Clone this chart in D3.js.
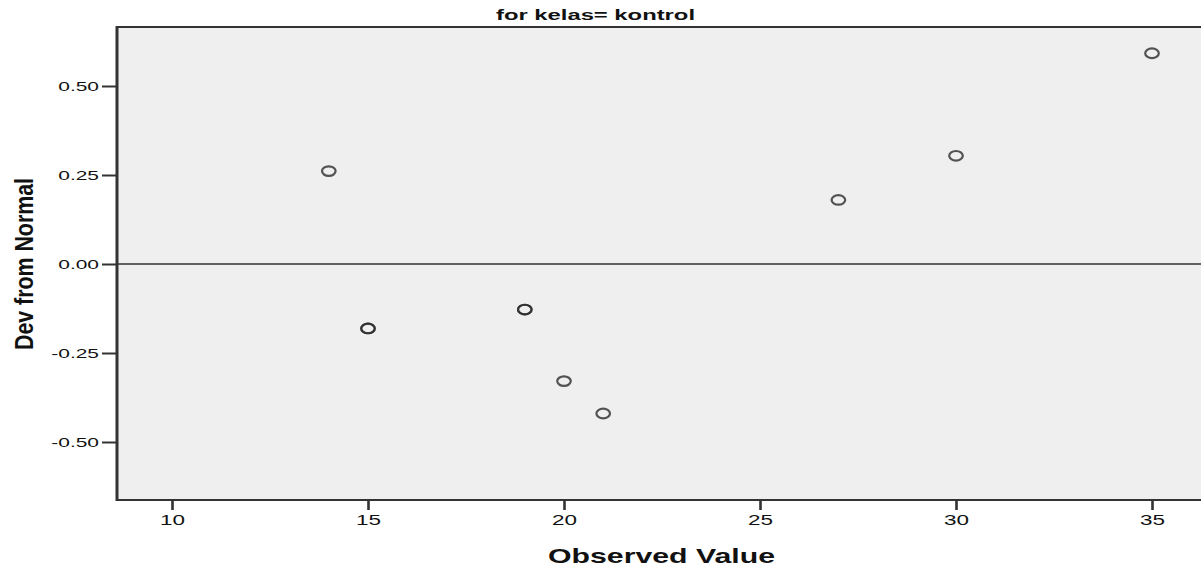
<!DOCTYPE html>
<html>
<head>
<meta charset="utf-8">
<script src="https://cdn.jsdelivr.net/npm/d3@7"></script>
<style>
  body { margin: 0; background: #fff; }
  text { font-family: "Liberation Sans", Arial, sans-serif; fill: #111; }
</style>
</head>
<body>
<script>
// observed values and their deviation from normal (15 and 19 occur twice)
var observed = [14, 15, 15, 19, 19, 20, 21, 27, 30, 35];
var deviation = [0.261, -0.181, -0.181, -0.128, -0.128, -0.329, -0.42, 0.18, 0.304, 0.592];
var xTicks = [10, 15, 20, 25, 30, 35];
var yTicks = [0.5, 0.25, 0, -0.25, -0.5];

var W = 1201, H = 571;
var plotL = 117, plotT = 27, plotR = 1207, plotB = 500;

var x = d3.scaleLinear().domain([10, 35]).range([172, 1152]);
var y = d3.scaleLinear().domain([-0.5, 0.5]).range([442, 86]);

var svg = d3.select('body').append('svg').attr('width', W).attr('height', H);

// the source picture is stretched sideways, so widen text to match
var widen = function (sel, k) {
    sel.each(function () {
        var w = this.getComputedTextLength();
        d3.select(this).attr('textLength', w * k).attr('lengthAdjust', 'spacingAndGlyphs');
    });
};

svg.append('rect')
    .attr('x', plotL).attr('y', plotT)
    .attr('width', plotR - plotL).attr('height', plotB - plotT)
    .attr('fill', '#efefef');

svg.append('line')
    .attr('x1', plotL).attr('x2', plotR).attr('y1', plotT).attr('y2', plotT)
    .attr('stroke', '#333').attr('stroke-width', 2);
svg.append('line')
    .attr('x1', plotL).attr('x2', plotR).attr('y1', plotB).attr('y2', plotB)
    .attr('stroke', '#333').attr('stroke-width', 2);
svg.append('line')
    .attr('x1', plotL).attr('x2', plotL).attr('y1', plotT - 1).attr('y2', plotB + 1)
    .attr('stroke', '#333').attr('stroke-width', 3);

// reference line at 0
svg.append('line')
    .attr('x1', plotL).attr('x2', plotR)
    .attr('y1', y(0)).attr('y2', y(0))
    .attr('stroke', '#333').attr('stroke-width', 1.6);

var xAxis = svg.append('g')
    .attr('transform', 'translate(0,' + plotB + ')')
    .call(d3.axisBottom(x).tickValues(xTicks).tickSize(10).tickPadding(4));
xAxis.select('.domain').remove();
xAxis.selectAll('line').attr('stroke', '#333').attr('stroke-width', 2.6);
xAxis.selectAll('text').style('font-size', '15px').attr('fill', '#111').call(widen, 1.5);

var yAxis = svg.append('g')
    .attr('transform', 'translate(' + plotL + ',0)')
    .call(d3.axisLeft(y).tickValues(yTicks).tickSize(15).tickPadding(3)
        .tickFormat(function (d) { return d3.format('.2f')(d).replace('\u2212', '-'); }));
yAxis.select('.domain').remove();
yAxis.selectAll('line').attr('stroke', '#333').attr('stroke-width', 2);
yAxis.selectAll('text').style('font-size', '13.5px').attr('fill', '#111').call(widen, 1.55);

svg.selectAll('ellipse.pt')
    .data(observed)
    .enter().append('ellipse')
    .attr('class', 'pt')
    .attr('cx', function (d) { return x(d); })
    .attr('cy', function (d, i) { return y(deviation[i]); })
    .attr('rx', 6.8)
    .attr('ry', 4.8)
    .attr('fill', 'none')
    .attr('stroke', '#2a2a2a')
    .attr('stroke-width', 2.2)
    .attr('stroke-opacity', 0.8);

svg.append('text')
    .attr('x', 496).attr('y', 20)
    .style('font-size', '14px').style('font-weight', 'bold')
    .text('for kelas= kontrol')
    .attr('textLength', 199).attr('lengthAdjust', 'spacingAndGlyphs');

svg.append('text')
    .attr('x', 548).attr('y', 563)
    .style('font-size', '21px').style('font-weight', 'bold')
    .text('Observed Value')
    .attr('textLength', 227).attr('lengthAdjust', 'spacingAndGlyphs');

svg.append('text')
    .attr('transform', 'translate(33,' + (y(0) + 86) + ') rotate(-90)')
    .style('font-size', '25px').style('font-weight', 'bold')
    .text('Dev from Normal')
    .attr('textLength', 172).attr('lengthAdjust', 'spacingAndGlyphs');
</script>
</body>
</html>
